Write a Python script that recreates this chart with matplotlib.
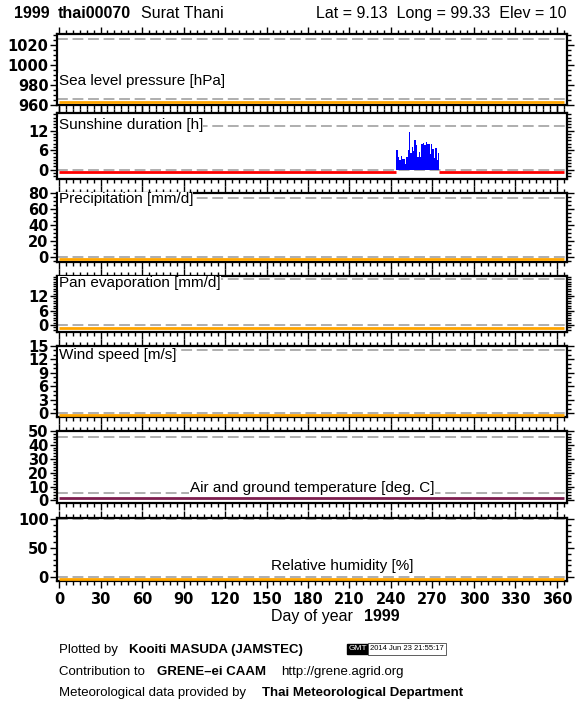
import matplotlib
matplotlib.use("Agg")
import matplotlib.pyplot as plt
from matplotlib.ticker import MultipleLocator, FixedLocator
import numpy as np

W, H = 580, 710

# ---------------- data ----------------
year = 1999
station_id = "thai00070"
station_name = "Surat Thani"
lat, lon, elev = 9.13, 99.33, 10

panel_names = ["Sea level pressure [hPa]", "Sunshine duration [h]",
               "Precipitation [mm/d]", "Pan evaporation [mm/d]",
               "Wind speed [m/s]", "Air and ground temperature [deg. C]",
               "Relative humidity [%]"]
ylims = [(960, 1031), (-2.9, 17.4), (-6.3, 80), (-2.9, 20.3),
         (-0.9, 15), (-1.8, 50), (-7, 102)]
major_ticks = [[960, 980, 1000, 1020], [0, 6, 12], [0, 20, 40, 60, 80],
               [0, 6, 12], [0, 3, 6, 9, 12, 15], [0, 10, 20, 30, 40, 50],
               [0, 50, 100]]
minor_steps = [5, 1, 5, 1, 1, 2, 10]
ref_lines = [[966, 1026], [0, 13.4], [0, 74], [0, 18.9], [0, 14.1],
             [5.5, 46], [0, 100]]

# missing-data flag lines (level in data units, colour)
flag_levels = [963, -0.85, -3.0, -1.3, -0.45, 1.6, -3.5]
flag_colors = ["#ffa500", "#ff0000", "#ffa500", "#ffa500", "#ffa500",
               "#7d1e4f", "#ffa500"]
flag_segments_full = [(0, 365)]
flag_segments_sun = [(0, 244), (274.5, 365)]

# sunshine duration observations
sun_days = list(range(244, 275))
sun_hours = [6.0, 3.9, 3.0, 4.2, 3.2, 3.3, 1.6, 3.8, 6.0, 11.5, 5.0, 7.0,
             5.8, 9.0, 7.6, 4.0, 5.5, 3.9, 7.8, 8.2, 7.6, 8.6, 7.8, 7.9,
             4.9, 8.0, 6.3, 3.7, 6.6, 2.8, 5.0]

xticks = list(range(0, 361, 30))

# ---------------- layout ----------------
fig = plt.figure(figsize=(W / 100, H / 100), dpi=100)
fig.patch.set_facecolor("white")

panels_px = [(34, 105), (113, 179), (193, 262), (276, 332), (346, 417),
             (431, 503), (518, 581)]
left_px, right_px = 57, 567

labfont = "Liberation Sans"

label_pos = [(0.003, 0.34, "left"), (0.003, 0.82, "left"),
             (0.003, 0.91, "left"), (0.003, 0.875, "left"),
             (0.003, 0.87, "left"), (0.5, 0.21, "center"),
             (0.560, 0.24, "center")]

axes = []
for i, (top, bot) in enumerate(panels_px):
    ax = fig.add_axes([left_px / W, 1 - bot / H, (right_px - left_px) / W,
                       (bot - top) / H])
    axes.append(ax)
    ax.set_xlim(-1.5, 367.3)
    ax.set_ylim(*ylims[i])
    for r in ref_lines[i]:
        ax.axhline(r, color="#a8a8a8", lw=1.3, dashes=(6, 2.6), zorder=1)
    segs = flag_segments_sun if i == 1 else flag_segments_full
    for (a, b) in segs:
        ax.plot([a, b], [flag_levels[i]] * 2, color=flag_colors[i], lw=2.0,
                solid_capstyle="butt", zorder=3)
    if i == 1:
        ax.bar(sun_days, sun_hours, width=1.0, align="edge", color="#0000ff",
               edgecolor="none", zorder=2)
    ax.yaxis.set_major_locator(FixedLocator(major_ticks[i]))
    ax.yaxis.set_minor_locator(MultipleLocator(minor_steps[i]))
    ax.xaxis.set_major_locator(FixedLocator(xticks))
    ax.xaxis.set_minor_locator(MultipleLocator(5))
    ax.tick_params(axis="both", which="both", direction="out", top=True,
                   right=True, width=1.0, color="black")
    ax.tick_params(which="major", length=5)
    ax.tick_params(which="minor", length=3)
    ax.tick_params(axis="y", pad=1)
    for lbl in ax.get_yticklabels():
        lbl.set_fontfamily("DejaVu Sans")
        lbl.set_fontsize(10.5)
        lbl.set_fontweight("bold")
    if i < 6:
        ax.set_xticklabels([])
    else:
        ax.tick_params(axis="x", pad=3)
        for lbl in ax.get_xticklabels():
            lbl.set_fontfamily("DejaVu Sans")
            lbl.set_fontweight("bold")
            lbl.set_fontsize(10.5)
    for sp in ax.spines.values():
        sp.set_linewidth(1.6)
    lx, ly, ha = label_pos[i]
    ax.text(lx, ly, panel_names[i], transform=ax.transAxes, ha=ha,
            va="center", fontsize=11, family=labfont, zorder=5,
            bbox=dict(facecolor="white", edgecolor="none", pad=0.3))


def ftext(xpx, ypx, s, va="baseline", **kw):
    fig.text(xpx / W, 1 - ypx / H, s, va=va, family=labfont, **kw)


# title (baselines)
ftext(14, 18, str(year), fontsize=11.5, weight="bold")
ftext(58, 18, station_id, fontsize=11.5, weight="bold")
ftext(141, 18, station_name, fontsize=11.5)
fig.text(567 / W, 1 - 18 / H,
         f"Lat = {lat:.2f}  Long = {lon:.2f}  Elev = {elev}",
         ha="right", va="baseline", family=labfont, fontsize=11.5)

# x label
ftext(271, 621, "Day of year", fontsize=11.5)
ftext(364, 621, str(year), fontsize=11.5, weight="bold")

# footer
ftext(59, 653, "Plotted by", fontsize=9.5)
ftext(129, 653, "Kooiti MASUDA (JAMSTEC)", fontsize=9.5, weight="bold")
ftext(349, 649, "GMT", va="center", fontsize=6, color="white",
      bbox=dict(facecolor="black", edgecolor="black", pad=1.2))
ftext(370, 649, "2014 Jun 23 21:55:17", va="center", fontsize=5.5,
      bbox=dict(facecolor="white", edgecolor="#444444", lw=0.6, pad=1.6))
ftext(59, 675, "Contribution to", fontsize=9.5)
ftext(157, 675, "GRENE\u2013ei CAAM", fontsize=9.5, weight="bold")
ftext(281, 675, "http://grene.agrid.org", fontsize=9.5)
ftext(59, 696, "Meteorological data provided by", fontsize=9.5)
ftext(262, 696, "Thai Meteorological Department", fontsize=9.5,
      weight="bold")

fig.savefig("out.png", dpi=100, facecolor="white")
